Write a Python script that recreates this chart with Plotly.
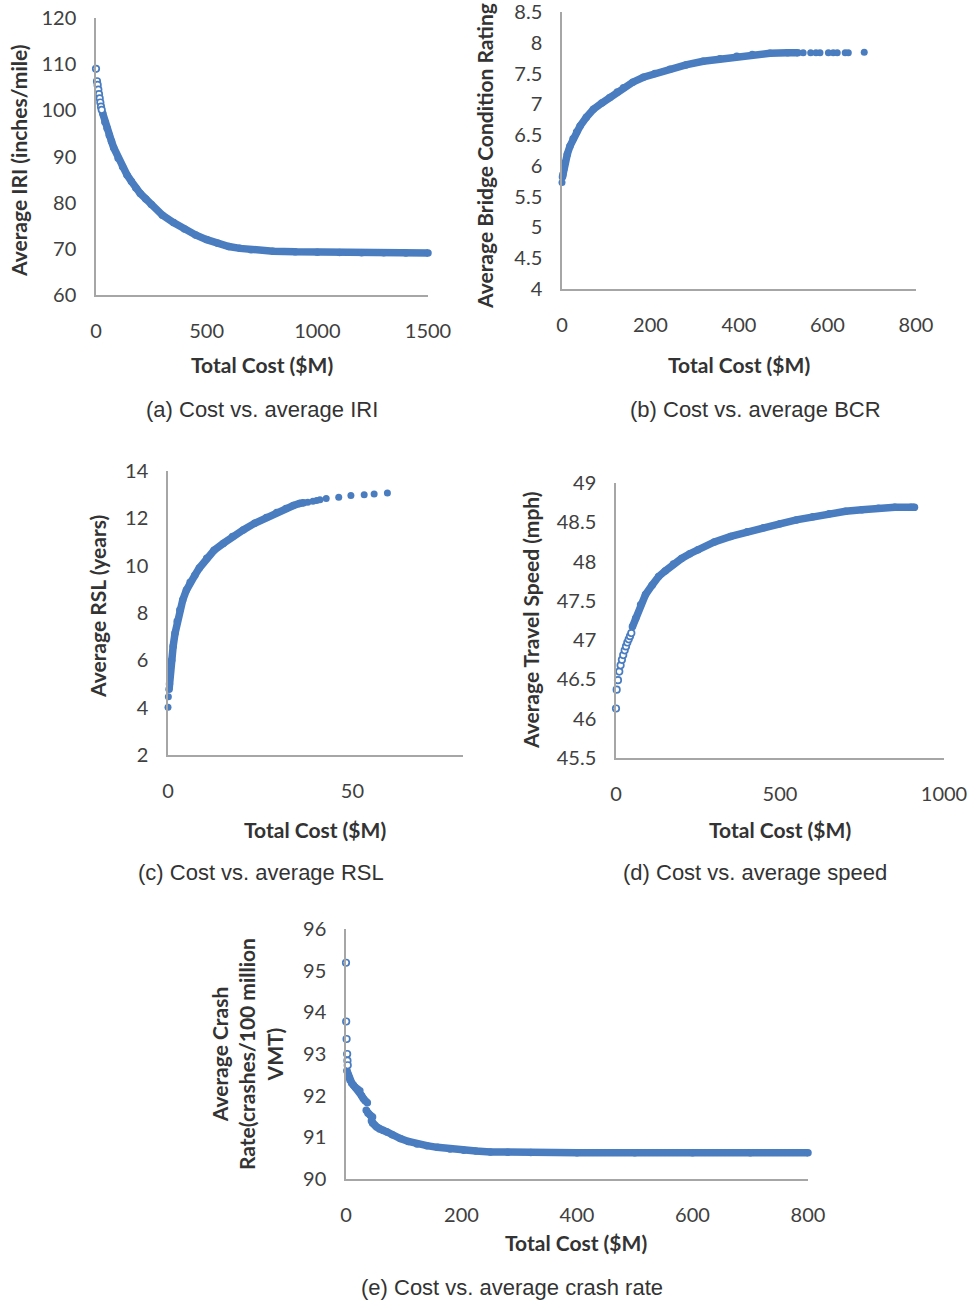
import plotly.graph_objects as go

W, H = 970, 1301
BLUE = "#4a7cc0"
AXC = "#a6a6a6"
TXT = "#404040"

# ---------------- (a) Cost vs. average IRI ----------------
iri_sparse_cost = [0, 4.5, 7.5, 10.5, 13.5, 16.7, 19.6, 22.6, 25.8]
iri_sparse_val = [109.0, 106.3, 105.5, 104.5, 103.5, 102.6, 101.7, 100.8, 100.1]
iri_cost = [30, 40, 50, 60, 70, 80, 100, 120, 140, 160, 180, 200, 225, 250, 300,
            350, 400, 450, 500, 550, 600, 650, 700, 800, 900, 1000, 1100, 1200,
            1300, 1400, 1500]
iri_val = [99.4, 97.5, 96.1, 94.6, 93.3, 91.9, 89.6, 87.8, 86.0, 84.6, 83.2, 82.0,
           80.8, 79.6, 77.3, 75.7, 74.3, 73.0, 72.0, 71.2, 70.5, 70.1, 69.8, 69.5,
           69.35, 69.25, 69.2, 69.15, 69.15, 69.1, 69.1]

# ---------------- (b) Cost vs. average BCR ----------------
bcr_sparse_cost = [0]
bcr_sparse_val = [5.73]
bcr_cost = [1, 2, 4, 7, 12, 18, 25, 33, 41, 55, 71, 90, 108, 125, 139, 160, 184,
            210, 244, 280, 319, 357, 395, 430, 470, 510, 533]
bcr_val = [5.82, 5.86, 5.95, 6.05, 6.19, 6.32, 6.44, 6.55, 6.65, 6.79, 6.92, 7.02,
           7.11, 7.20, 7.27, 7.36, 7.44, 7.50, 7.57, 7.64, 7.70, 7.74, 7.78, 7.81,
           7.83, 7.84, 7.84]
bcr_tail_cost = [545, 562, 574, 583, 602, 613, 622, 640, 647, 683]
bcr_tail_val = [7.84, 7.84, 7.84, 7.84, 7.84, 7.84, 7.84, 7.84, 7.84, 7.845]

# ---------------- (c) Cost vs. average RSL ----------------
rsl_sparse_cost = [0, 0.1]
rsl_sparse_val = [4.02, 4.46]
rsl_cost = [0.3, 0.4, 0.6, 1.0, 1.4, 1.9, 2.5, 3.2, 4.0, 5.0, 6.0, 7.3, 8.5, 10.5,
            12.5, 15.0, 17.5, 20.4, 23.5, 26.7, 29.5, 32.0, 34.0, 35.7, 36.8]
rsl_val = [4.78, 5.0, 5.5, 6.0, 6.6, 7.14, 7.65, 8.13, 8.55, 8.97, 9.3, 9.6, 9.9,
           10.31, 10.65, 10.94, 11.23, 11.51, 11.79, 12.04, 12.25, 12.42, 12.54,
           12.63, 12.66]
rsl_tail_cost = [37.9, 39.3, 40.3, 41.2, 42.9, 46.3, 49.6, 53.2, 55.9, 59.5]
rsl_tail_val = [12.68, 12.72, 12.75, 12.78, 12.84, 12.89, 12.97, 13.0, 13.03, 13.07]

# ---------------- (d) Cost vs. average speed ----------------
spd_sparse_cost = [0, 2, 6, 10, 14, 18, 22, 26.5, 30.5, 34.5, 38.7, 42.7, 46.7]
spd_sparse_val = [46.13, 46.37, 46.49, 46.60, 46.68, 46.75, 46.81, 46.87, 46.92,
                  46.97, 47.01, 47.05, 47.09]
spd_cost = [50, 60, 75, 90, 110, 130, 150, 175, 200, 225, 250, 300, 350, 400, 450,
            500, 550, 600, 650, 700, 750, 800, 850, 900, 910]
spd_val = [47.17, 47.28, 47.45, 47.58, 47.70, 47.81, 47.88, 47.97, 48.04, 48.10,
           48.15, 48.25, 48.32, 48.38, 48.43, 48.48, 48.53, 48.57, 48.61, 48.64,
           48.66, 48.68, 48.69, 48.69, 48.69]

# ---------------- (e) Cost vs. average crash rate ----------------
crash_sparse_cost = [0, 0.3, 1, 2, 2.5, 3]
crash_sparse_val = [95.19, 93.78, 93.36, 93.0, 92.84, 92.73]
crash_cost = [1.5, 3, 5, 7, 10, 13, 16, 20, 24, 27, 30, 33, 37, None,
              35, 38, 42, 46, None,
              44, 46, 50, 53, 58, 64, 71, 80, 94, 108, 123, 140, 158, 180, 204,
              225, 250, 280, 320, 400, 500, 600, 700, 800]
crash_val = [92.6, 92.52, 92.44, 92.37, 92.3, 92.25, 92.2, 92.16, 92.12, 92.0,
             91.93, 91.88, 91.83, None,
             91.65, 91.58, 91.53, 91.49, None,
             91.4, 91.34, 91.29, 91.25, 91.2, 91.17, 91.13, 91.06, 90.97, 90.9,
             90.84, 90.8, 90.76, 90.72, 90.69, 90.67, 90.65, 90.64, 90.635, 90.63,
             90.63, 90.63, 90.63, 90.63]

# ---------------- axes ticks ----------------
a_xticks = [0, 500, 1000, 1500]
a_yticks = [60, 70, 80, 90, 100, 110, 120]
b_xticks = [0, 200, 400, 600, 800]
b_yticks = [4, 4.5, 5, 5.5, 6, 6.5, 7, 7.5, 8, 8.5]
c_xticks = [0, 50]
c_yticks = [2, 4, 6, 8, 10, 12, 14]
d_xticks = [0, 500, 1000]
d_yticks = [45.5, 46, 46.5, 47, 47.5, 48, 48.5, 49]
e_xticks = [0, 200, 400, 600, 800]
e_yticks = [90, 91, 92, 93, 94, 95, 96]

captions = ["(a) Cost vs. average IRI", "(b) Cost vs. average BCR",
            "(c) Cost vs. average RSL", "(d) Cost vs. average speed",
            "(e) Cost vs. average crash rate"]
ytitles = ["Average IRI (inches/mile)", "Average Bridge Condition Rating",
           "Average RSL (years)", "Average Travel Speed (mph)",
           "Average Crash<br>Rate(crashes/100 million<br>VMT)"]
xtitle = "Total Cost ($M)"

# pixel boxes: (left, right, top, bottom)
boxes = [(96, 428, 18, 295), (562, 916, 12, 289), (168, 463, 471, 755),
         (616, 944, 483, 758), (346, 808, 929, 1179)]
xranges = [[0, 1500], [0, 800], [0, 80], [0, 1000], [0, 800]]
yranges = [[60, 120], [4, 8.5], [2, 14], [45.5, 49], [90, 96]]
xticks = [a_xticks, b_xticks, c_xticks, d_xticks, e_xticks]
yticks = [a_yticks, b_yticks, c_yticks, d_yticks, e_yticks]

sparse = [(iri_sparse_cost, iri_sparse_val, True), (bcr_sparse_cost, bcr_sparse_val, False),
          (rsl_sparse_cost, rsl_sparse_val, False), (spd_sparse_cost, spd_sparse_val, True),
          (crash_sparse_cost, crash_sparse_val, True)]
dense = [(iri_cost, iri_val), (bcr_cost, bcr_val), (rsl_cost, rsl_val),
         (spd_cost, spd_val), (crash_cost, crash_val)]
tails = [None, (bcr_tail_cost, bcr_tail_val), (rsl_tail_cost, rsl_tail_val), None, None]

fig = go.Figure()
layout = dict(width=W, height=H, margin=dict(l=0, r=0, t=0, b=0, pad=0),
              paper_bgcolor="white", plot_bgcolor="white", showlegend=False,
              hovermode=False)

def fmt(v):
    return ("%g" % v)

annotations = []
for i in range(5):
    n = "" if i == 0 else str(i + 1)
    xa, ya = "x" + n, "y" + n
    l, r, t, b = boxes[i]
    layout["xaxis" + n] = dict(
        domain=[l / W, r / W], range=xranges[i], anchor=ya, automargin=False,
        tickvals=xticks[i], ticktext=[fmt(v) for v in xticks[i]],
        showline=True, linecolor=AXC, linewidth=1.5, showgrid=False, zeroline=False,
        ticks="", ticklabelstandoff=17, ticklabeloverflow="allow",
        tickfont=dict(family="Lato", size=20, color=TXT))
    layout["yaxis" + n] = dict(
        domain=[1 - b / H, 1 - t / H], range=yranges[i], anchor=xa, automargin=False,
        tickvals=yticks[i], ticktext=[fmt(v) for v in yticks[i]],
        showline=True, linecolor=AXC, linewidth=1.5, showgrid=False, zeroline=False,
        ticks="", ticklabelstandoff=14, ticklabeloverflow="allow",
        tickfont=dict(family="Lato", size=20, color=TXT))

    dc, dv = dense[i]
    fig.add_trace(go.Scatter(x=dc, y=dv, xaxis=xa, yaxis=ya, mode="lines+markers",
                             line=dict(color=BLUE, width=7.5), connectgaps=False,
                             marker=dict(color=BLUE, size=7.5), cliponaxis=False))
    sc, sv, hollow = sparse[i]
    if hollow:
        mk = dict(color="white", size=6.5, line=dict(color=BLUE, width=1.7))
    else:
        mk = dict(color=BLUE, size=7, line=dict(width=0))
    fig.add_trace(go.Scatter(x=sc, y=sv, xaxis=xa, yaxis=ya, mode="markers",
                             marker=mk, cliponaxis=False))
    if tails[i] is not None:
        tc, tv = tails[i]
        fig.add_trace(go.Scatter(x=tc, y=tv, xaxis=xa, yaxis=ya, mode="markers",
                                 marker=dict(color=BLUE, size=7), cliponaxis=False))

# annotation positions (pixels)
xt_pos = [(262, 365), (739, 365), (315, 829), (780, 829), (576, 1242)]
yt_pos = [(18, 161), (484, 156), (98, 607), (530, 620), (247, 1054)]
cap_pos = [(262, 410), (755, 410), (261, 872), (755, 872), (512, 1287)]

for i in range(5):
    x, y = xt_pos[i]
    annotations.append(dict(x=x / W, y=1 - y / H, xref="paper", yref="paper",
                            text="<b>" + xtitle + "</b>", showarrow=False,
                            xanchor="center", yanchor="middle",
                            font=dict(family="Lato", size=21, color="#333333")))
    x, y = yt_pos[i]
    annotations.append(dict(x=x / W, y=1 - y / H, xref="paper", yref="paper",
                            text="<b>" + ytitles[i] + "</b>", showarrow=False,
                            textangle=-90, xanchor="center", yanchor="middle",
                            align="center",
                            font=dict(family="Lato", size=21, color="#333333")))
    x, y = cap_pos[i]
    annotations.append(dict(x=x / W, y=1 - y / H, xref="paper", yref="paper",
                            text=captions[i], showarrow=False,
                            xanchor="center", yanchor="middle",
                            font=dict(family="Liberation Sans", size=22, color="#333333")))

layout["annotations"] = annotations
fig.update_layout(**layout)
fig.write_html("out.html", config={"displayModeBar": False},
               post_script="document.body.style.margin='0px';document.body.style.padding='0px';")
